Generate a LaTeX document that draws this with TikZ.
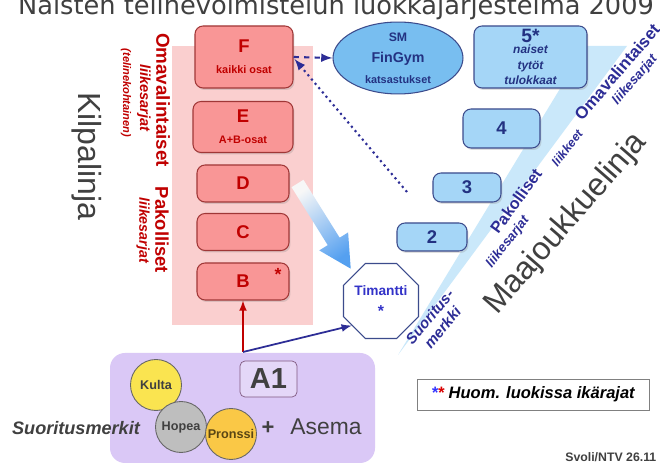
\documentclass[tikz,border=0pt]{standalone}
\usepackage{fontspec}
\setmainfont{Liberation Sans}
\newfontfamily\titlefont{DejaVu Sans}
\usetikzlibrary{shapes.geometric,calc,shadows}

\definecolor{kred}{RGB}{192,0,0}
\definecolor{boxred}{RGB}{249,150,150}
\definecolor{edgered}{RGB}{160,55,55}
\definecolor{pinkbg}{RGB}{250,207,207}
\definecolor{navy}{RGB}{45,45,150}
\definecolor{numblue}{RGB}{35,50,130}
\definecolor{timblue}{RGB}{50,50,200}
\definecolor{boxblue}{RGB}{165,214,247}
\definecolor{edgeblue}{RGB}{60,75,140}
\definecolor{smblue}{RGB}{120,190,240}
\definecolor{bandblue}{RGB}{202,232,250}
\definecolor{lavender}{RGB}{218,200,246}
\definecolor{lavlight}{RGB}{228,215,248}
\definecolor{txtgray}{RGB}{64,64,64}
\definecolor{kulta}{RGB}{250,228,80}
\definecolor{hopea}{RGB}{190,190,190}
\definecolor{pronssi}{RGB}{250,200,70}
\definecolor{pronssitxt}{RGB}{90,70,20}
\definecolor{arrowblue}{RGB}{85,160,240}

\newcommand{\fsz}[2]{\fontsize{#1}{#2}\selectfont}

\begin{document}
\begin{tikzpicture}[x=0.02cm, y=-0.02cm,
  redbox/.style={draw=edgered, fill=boxred, rounded corners=0.16cm, line width=0.6pt,
    text=kred, font=\bfseries, align=center, inner sep=0pt,
    drop shadow={opacity=0.25, shadow xshift=0.03cm, shadow yshift=-0.04cm}},
  bluebox/.style={draw=edgeblue, fill=boxblue, rounded corners=0.16cm, line width=0.6pt,
    text=numblue, font=\bfseries, align=center, inner sep=0pt,
    drop shadow={opacity=0.25, shadow xshift=0.03cm, shadow yshift=-0.04cm}},
  coin/.style={circle, draw=txtgray!80, line width=0.5pt, minimum size=1.02cm, inner sep=0pt,
    font=\bfseries\fsz{7.2}{8}, text=txtgray},
  redlabel/.style={text=kred, rotate=-90},
  bluelabel/.style={text=navy},
]
\useasboundingbox (0,0) rectangle (660,465);
\clip (0,0) rectangle (660,465);
\fill[white] (0,0) rectangle (660,465);

% title, cut at the top
\node[anchor=base, text=txtgray, font=\titlefont\fsz{14.6}{16}] (title) at (336,15)
  {Naisten telinevoimistelun luokkajärjestelmä 2009};

% backgrounds
\fill[pinkbg] (172,46) rectangle (313,325);
\fill[bandblue] (398,355) -- (586,46) -- (627,46) -- cycle;
\fill[lavender, rounded corners=0.3cm] (110,353) rectangle (375,463);

% left side
\node[redlabel, font=\bfseries\fsz{10.7}{12}] (omaL) at (163,100) {Omavalintaiset};
\node[redlabel, font=\bfseries\itshape\fsz{8.3}{9}] (liikeL1) at (144,98) {liikesarjat};
\node[redlabel, font=\bfseries\itshape\fsz{6.3}{7}] (telL) at (126,93) {(telinekohtainen)};
\node[redlabel, font=\bfseries\fsz{10.5}{12}] (pakL) at (162,230) {Pakolliset};
\node[redlabel, font=\bfseries\itshape\fsz{8.1}{9}] (liikeL2) at (143,230) {liikesarjat};
\node[rotate=-90, text=txtgray, font=\fsz{18.2}{20}] (kilpa) at (87,156) {Kilpalinja};

% kilpalinja boxes
\node[redbox, minimum width=1.96cm, minimum height=1.24cm] (F) at (244,57)
  {\fsz{10.5}{11}F\\\fsz{6.2}{8}kaikki osat};
\node[redbox, minimum width=2.0cm, minimum height=1.02cm] (E) at (243,127)
  {\fsz{10.5}{11}E\\\fsz{6.2}{8}A+B-osat};
\node[redbox, minimum width=1.84cm, minimum height=0.74cm] (D) at (243,183.5) {\fsz{10.5}{12}D};
\node[redbox, minimum width=1.84cm, minimum height=0.74cm] (C) at (243,232) {\fsz{10.5}{12}C};
\node[redbox, minimum width=1.84cm, minimum height=0.74cm] (B) at (243,281.5) {\fsz{10.5}{12}B};
\node[text=kred, font=\bfseries\fsz{10}{12}] (bstar) at (278,274) {*};

% maajoukkuelinja boxes
\node[ellipse, draw=edgeblue, fill=smblue, line width=0.6pt, minimum width=2.6cm, minimum height=1.24cm,
  inner sep=0pt, text=numblue, font=\bfseries, align=center] (sm) at (398,58)
  {\fsz{7}{8}SM\\\fsz{8.1}{10}FinGym\\\fsz{6.2}{7.5}katsastukset};
\node[bluebox, minimum width=2.26cm, minimum height=1.24cm, font=\bfseries\itshape\fsz{6.8}{7.2}] (n5) at (530.5,57)
  {\upshape\fsz{11}{12}5*\\[-1pt]naiset\\[1.5pt]tytöt\\[1.5pt]tulokkaat};
\node[bluebox, minimum width=1.54cm, minimum height=0.78cm] (n4) at (501.5,128.5) {\fsz{10.5}{12}4};
\node[bluebox, minimum width=1.36cm, minimum height=0.58cm] (n3) at (467,187.5) {\fsz{10.5}{12}3};
\node[bluebox, minimum width=1.40cm, minimum height=0.56cm] (n2) at (432,237) {\fsz{10.5}{12}2};
\node[regular polygon, regular polygon sides=8, draw=edgeblue, fill=white, line width=0.6pt,
  minimum size=1.46cm, inner sep=0pt, text=timblue, font=\bfseries, align=center] (tim) at (381,301)
  {\fsz{7.8}{10}Timantti\\\fsz{9}{10}*};

% right side
\node[bluelabel, rotate=49, font=\bfseries\fsz{9.6}{11}] (omaR) at (617,72) {Omavalintaiset};
\node[bluelabel, rotate=49, font=\bfseries\itshape\fsz{7.5}{8}] (liikeR1) at (635,80) {liikesarjat};
\node[bluelabel, rotate=52, font=\bfseries\itshape\fsz{7}{8}] (liikkeet) at (567,148) {liikkeet};
\node[bluelabel, rotate=54, font=\bfseries\fsz{9.2}{11}] (pakR) at (516,201) {Pakolliset};
\node[bluelabel, rotate=52, font=\bfseries\itshape\fsz{7.5}{8}] (liikeR2) at (508,242) {liikesarjat};
\node[bluelabel, rotate=50, align=center, font=\bfseries\itshape\fsz{8.5}{9.5}] (suor) at (436,322)
  {Suoritus-\\merkki};
\node[rotate=49, text=txtgray, font=\fsz{18.2}{20}] (maajo) at (566,224) {Maajoukkuelinja};

% shaded arrow D -> Timantti
\coordinate (gs) at ($(D.east)+(8,0)$);
\coordinate (ge) at ($(tim.135)!0.06!(gs)$);
\coordinate (hb) at ($(gs)!0.68!(ge)$);
\shade[top color=gray!6, bottom color=arrowblue, shading angle=35]
  ($(gs)!0.14cm!90:(ge)$) -- ($(hb)!0.14cm!90:(ge)$) -- ($(hb)!0.34cm!90:(ge)$) -- (ge)
  -- ($(hb)!0.34cm!-90:(ge)$) -- ($(hb)!0.14cm!-90:(ge)$) -- ($(gs)!0.14cm!-90:(ge)$) -- cycle;

% bottom
\node[coin, fill=kulta] (kulta) at (156,385) {Kulta};
\node[coin, fill=hopea] (hopea) at (181,427) {Hopea};
\node[coin, fill=pronssi, text=pronssitxt] (pronssi) at (231,434) {Pronssi};
\node[draw=gray!70!violet, fill=lavlight, rounded corners=0.1cm, minimum width=1.14cm, minimum height=0.72cm,
  inner sep=0pt, text=txtgray, font=\bfseries\fsz{16.5}{18}] (a1) at (268.5,379) {A1};
\node[text=txtgray, font=\bfseries\itshape\fsz{10.3}{12}] (suormerk) at (76,428) {Suoritusmerkit};
\node[text=txtgray, font=\bfseries\fsz{12.5}{14}] (plus) at (268,428) {+};
\node[text=txtgray, font=\fsz{13}{14}] (asema) at (326,427) {Asema};

\node[draw=gray, line width=0.5pt, minimum width=4.64cm, minimum height=0.62cm, inner sep=0pt,
  font=\bfseries\itshape\fsz{9.4}{11}] (huom) at (533,394.5)
  {\textcolor{blue!80!white}{*}\textcolor{red!85!black}{*} Huom. luokissa ikärajat};
\node[anchor=base west, inner sep=0pt, text=txtgray, font=\bfseries\fsz{7}{8}] (svoli) at (565,462)
  {Svoli/NTV 26.11};

% connectors
\coordinate (fork) at (243,352);
\coordinate (dotstart) at (407,192);
\draw [>=latex, ->, kred, line width=1pt] (fork) -- (B.south);
\draw [>=latex, ->, navy, line width=1pt] (fork) -- (tim.-140);
\draw [>=latex, ->, navy, dashed, line width=1.2pt] (F.east) -- (sm.west);
\draw [>=latex, ->, navy, dotted, line width=1.2pt] (dotstart) -- ($(F.east)+(1,2)$);
\end{tikzpicture}
\end{document}
